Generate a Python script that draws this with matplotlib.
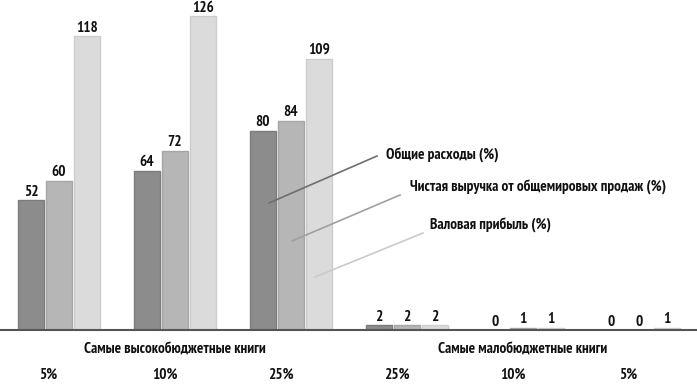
import matplotlib
matplotlib.use("Agg")
import matplotlib.pyplot as plt
import matplotlib.transforms as mtransforms
import numpy as np
import logging
logging.getLogger('matplotlib.font_manager').setLevel(logging.ERROR)

plt.rcParams['font.family'] = ['PT Sans Narrow', 'Fira Sans Condensed', 'Roboto Condensed',
                               'IBM Plex Sans Condensed', 'DejaVu Sans']
plt.rcParams['font.weight'] = 'semibold'

tick_labels = ["5%", "10%", "25%", "25%", "10%", "5%"]
group_labels = ["Самые высокобюджетные книги", "Самые малобюджетные книги"]
series_names = ["Общие расходы (%)", "Чистая выручка от общемировых продаж (%)", "Валовая прибыль (%)"]
expenses = [52, 64, 80, 2, 0, 0]
net_revenue = [60, 72, 84, 2, 1, 0]
gross_profit = [118, 126, 109, 2, 1, 1]

colors = ["#8c8c8c", "#b6b6b6", "#dbdbdb"]
edges = ["#7c7c7c", "#a6a6a6", "#cdcdcd"]

fig = plt.figure(figsize=(6.97, 3.84), dpi=100)
ax = fig.add_axes([0, 54/384, 1, 330/384])
x = np.arange(len(tick_labels))
w = 26/116
off = 28/116
fs = 11
tc = '#111111'
series = [expenses, net_revenue, gross_profit]
for k, vals in enumerate(series):
    pos = x + (k-1)*off
    ax.bar(pos, vals, width=w, color=colors[k], edgecolor=edges[k], linewidth=1)
    for p, v in zip(pos, vals):
        ax.text(p, v + 1.8, str(v), ha='center', va='baseline', fontsize=fs, color=tc)

ax.set_xlim(-59/116, (697-59)/116)
ax.set_ylim(0, 132.5)
for s in ['top', 'right', 'left']:
    ax.spines[s].set_visible(False)
ax.spines['bottom'].set_color('#555555')
ax.spines['bottom'].set_linewidth(1.5)
ax.set_yticks([])
ax.set_xticks([])

trans = mtransforms.blended_transform_factory(ax.transData, ax.transAxes)
for i, lab in enumerate(tick_labels):
    ax.text(i - 0.09, -45/330, lab, transform=trans, ha='center', va='center', fontsize=fs, color=tc)
ax.text(1, -20/330, group_labels[0], transform=trans, ha='center', va='center', fontsize=fs, color=tc)
ax.text(4, -20/330, group_labels[1], transform=trans, ha='center', va='center', fontsize=fs, color=tc)

ann = [
    (series_names[0], (269, 203), (377, 156), (386, 155), '#6e6e6e'),
    (series_names[1], (292, 241), (400, 195), (410, 187), '#a0a0a0'),
    (series_names[2], (315, 277), (423, 233), (430, 225), '#cacaca'),
]
for text, p0, p1, pt, c in ann:
    fig.add_artist(plt.Line2D([p0[0]/697, p1[0]/697], [1-p0[1]/384, 1-p1[1]/384],
                              transform=fig.transFigure, color=c, linewidth=1.2))
    fig.text(pt[0]/697, 1-pt[1]/384, text, ha='left', va='center', fontsize=fs, color=tc)

fig.savefig("out.png", dpi=100)
